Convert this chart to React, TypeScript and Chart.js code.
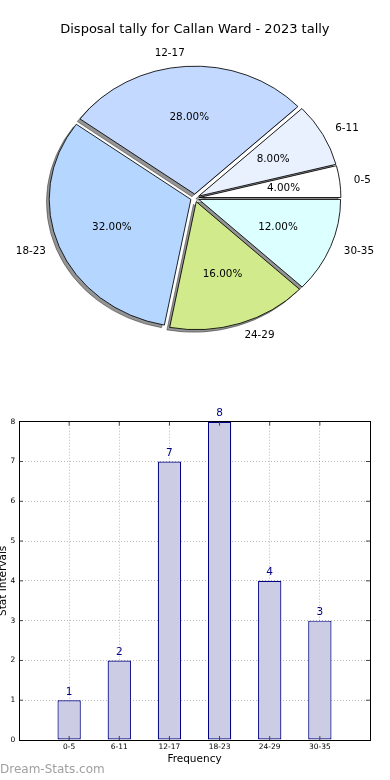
import React, { useEffect, useRef } from 'react';
import { Chart, registerables } from 'chart.js';

Chart.register(...registerables);

const FONT = "'DejaVu Sans', sans-serif";

const TITLE = 'Disposal tally for Callan Ward - 2023 tally';
const categories = ['0-5', '6-11', '12-17', '18-23', '24-29', '30-35'];
const counts = [1, 2, 7, 8, 4, 3];
const sliceColors = ['#ffffff', '#e9f1ff', '#c4d9ff', '#b4d6ff', '#d1eb8c', '#dcffff'];
const xAxisTitle = 'Frequency';
const yAxisTitle = 'Stat Intervals';
const watermark = 'Dream-Stats.com';

// pie geometry (matplotlib-like squashed, exploded pie)
const PIE_RADIUS = 141.7;
const SQUASH = 0.903;
const EXPLODE = 4.3;
const SHADOW_DX = -2.8;
const SHADOW_DY = 2.6;

const GRID = 'rgba(0,0,0,0.28)';

const pieDrawPlugin = {
  id: 'pieDraw',
  beforeDatasetsDraw(chart: any) {
    const ctx = chart.ctx as CanvasRenderingContext2D;
    const arcs = chart.getDatasetMeta(0).data as any[];
    const place = (el: any) => {
      const mid = (el.startAngle + el.endAngle) / 2;
      ctx.translate(el.x, el.y);
      ctx.scale(1, SQUASH);
      ctx.translate(-el.x, -el.y);
      ctx.translate(EXPLODE * Math.cos(mid), EXPLODE * Math.sin(mid));
    };
    for (const el of arcs) {
      ctx.save();
      place(el);
      ctx.translate(-10000, 0);
      ctx.shadowColor = 'rgba(0,0,0,0.42)';
      ctx.shadowOffsetX = 10000 + SHADOW_DX;
      ctx.shadowOffsetY = SHADOW_DY;
      ctx.shadowBlur = 0;
      el.draw(ctx);
      ctx.restore();
    }
    for (const el of arcs) {
      ctx.save();
      place(el);
      el.draw(ctx);
      ctx.restore();
    }
    return false;
  },
  afterDraw(chart: any) {
    const ctx = chart.ctx as CanvasRenderingContext2D;
    const arcs = chart.getDatasetMeta(0).data as any[];
    const data = chart.data.datasets[0].data as number[];
    const labels = chart.data.labels as string[];
    const total = data.reduce((a, b) => a + b, 0);
    ctx.save();
    ctx.font = `10.4px ${FONT}`;
    ctx.fillStyle = '#000';
    ctx.textBaseline = 'middle';
    arcs.forEach((el, i) => {
      const mid = (el.startAngle + el.endAngle) / 2;
      const c = Math.cos(mid);
      const s = Math.sin(mid);
      const rl = EXPLODE + el.outerRadius * 1.1;
      ctx.textAlign = c > 0 ? 'left' : 'right';
      ctx.fillText(labels[i], el.x + rl * c, el.y + SQUASH * rl * s);
      const rp = EXPLODE + el.outerRadius * 0.6;
      ctx.textAlign = 'center';
      ctx.fillText(((data[i] / total) * 100).toFixed(2) + '%', el.x + rp * c, el.y + SQUASH * rp * s);
    });
    ctx.restore();
  },
};

const barDrawPlugin = {
  id: 'barDraw',
  afterDraw(chart: any) {
    const ctx = chart.ctx as CanvasRenderingContext2D;
    const { left, right, top, bottom } = chart.chartArea;
    const xs = chart.scales.x;
    const ys = chart.scales.y;
    const px = (v: number) => Math.floor(v) + 0.5;
    ctx.save();
    // inward ticks
    ctx.strokeStyle = '#444';
    ctx.lineWidth = 1;
    ctx.beginPath();
    xs.ticks.forEach((t: any) => {
      if (t.value <= xs.min || t.value >= xs.max) return;
      const x = xs.getPixelForValue(t.value);
      ctx.moveTo(x, bottom);
      ctx.lineTo(x, bottom - 4);
      ctx.moveTo(x, top);
      ctx.lineTo(x, top + 4);
    });
    ys.ticks.forEach((t: any) => {
      if (t.value <= ys.min || t.value >= ys.max) return;
      const y = ys.getPixelForValue(t.value);
      ctx.moveTo(left, y);
      ctx.lineTo(left + 4, y);
      ctx.moveTo(right, y);
      ctx.lineTo(right - 4, y);
    });
    ctx.stroke();
    // frame
    ctx.strokeStyle = '#000';
    ctx.lineWidth = 1;
    ctx.strokeRect(px(left), px(top), px(right) - px(left), px(bottom) - px(top));
    // value labels
    const meta = chart.getDatasetMeta(0);
    const data = chart.data.datasets[0].data as any[];
    ctx.font = `10.5px ${FONT}`;
    ctx.fillStyle = '#000080';
    ctx.textAlign = 'center';
    ctx.textBaseline = 'alphabetic';
    meta.data.forEach((bar: any, i: number) => {
      ctx.fillText(String(data[i].y), bar.x, bar.y - 5.5);
    });
    ctx.restore();
  },
};

export default function App() {
  const pieRef = useRef<HTMLCanvasElement>(null);
  const barRef = useRef<HTMLCanvasElement>(null);

  useEffect(() => {
    const pie = new Chart(pieRef.current as HTMLCanvasElement, {
      type: 'pie',
      data: {
        labels: [...categories].reverse(),
        datasets: [
          {
            data: [...counts].reverse(),
            backgroundColor: [...sliceColors].reverse(),
            borderColor: '#000',
            borderWidth: 0.9,
          },
        ],
      },
      options: {
        responsive: false,
        animation: false,
        events: [],
        rotation: 90,
        radius: PIE_RADIUS,
        layout: { padding: { top: 0, bottom: 41.6, left: 0, right: 0.2 } },
        plugins: {
          legend: { display: false },
          tooltip: { enabled: false },
          title: {
            display: true,
            text: TITLE,
            color: '#000',
            font: { family: FONT, size: 13, weight: 'normal' },
            padding: { top: 22, bottom: 0 },
          },
        },
      } as any,
      plugins: [pieDrawPlugin],
    });

    const bar = new Chart(barRef.current as HTMLCanvasElement, {
      type: 'bar',
      data: {
        datasets: [
          {
            data: counts.map((v, i) => ({ x: i + 1, y: v })),
            backgroundColor: '#ccccE4',
            borderColor: '#000080',
            borderWidth: 1.2,
            borderSkipped: false,
            barPercentage: 0.465,
            categoryPercentage: 1,
          },
        ],
      },
      options: {
        responsive: false,
        animation: false,
        events: [],
        layout: { padding: { top: 21.7, right: 20, bottom: 0, left: 0 } },
        plugins: { legend: { display: false }, tooltip: { enabled: false } },
        scales: {
          x: {
            type: 'linear',
            min: 0,
            max: 7,
            offset: false,
            z: 1,
            afterFit: (s: any) => {
              s.height = 40;
            },
            ticks: {
              stepSize: 1,
              autoSkip: false,
              maxRotation: 0,
              padding: 3,
              color: '#000',
              font: { family: FONT, size: 7.5 },
              callback: (v: any) => categories[Number(v) - 1] ?? '',
            },
            grid: { color: GRID, lineWidth: 1, drawTicks: false, offset: false },
            border: { display: false, dash: [1, 2] },
            title: {
              display: true,
              text: xAxisTitle,
              color: '#000',
              font: { family: FONT, size: 10.5 },
              padding: { top: 0, bottom: 14.2 },
            },
          },
          y: {
            min: 0,
            max: 8,
            z: 1,
            afterFit: (s: any) => {
              s.width = 19;
            },
            ticks: {
              stepSize: 1,
              padding: 3.7,
              color: '#000',
              font: { family: FONT, size: 7.5 },
            },
            grid: { color: GRID, lineWidth: 1, drawTicks: false },
            border: { display: false, dash: [1, 2] },
            title: {
              display: true,
              text: yAxisTitle,
              color: '#000',
              font: { family: FONT, size: 10.5 },
              padding: { top: -3.3, bottom: 0 },
            },
          },
        },
      } as any,
      plugins: [barDrawPlugin],
    });

    return () => {
      pie.destroy();
      bar.destroy();
    };
  }, []);

  return (
    <div style={{ position: 'absolute', left: 0, top: 0, width: 390, height: 780, background: '#fff', overflow: 'hidden' }}>
      <canvas ref={pieRef} width={390} height={400} style={{ position: 'absolute', left: 0, top: 0 }} />
      <canvas ref={barRef} width={390} height={380} style={{ position: 'absolute', left: 0, top: 400 }} />
      <div
        style={{
          position: 'absolute',
          left: 0,
          top: 762,
          fontFamily: FONT,
          fontSize: 12,
          lineHeight: '14px',
          color: '#a0a0a0',
          whiteSpace: 'nowrap',
        }}
      >
        {watermark}
      </div>
    </div>
  );
}
